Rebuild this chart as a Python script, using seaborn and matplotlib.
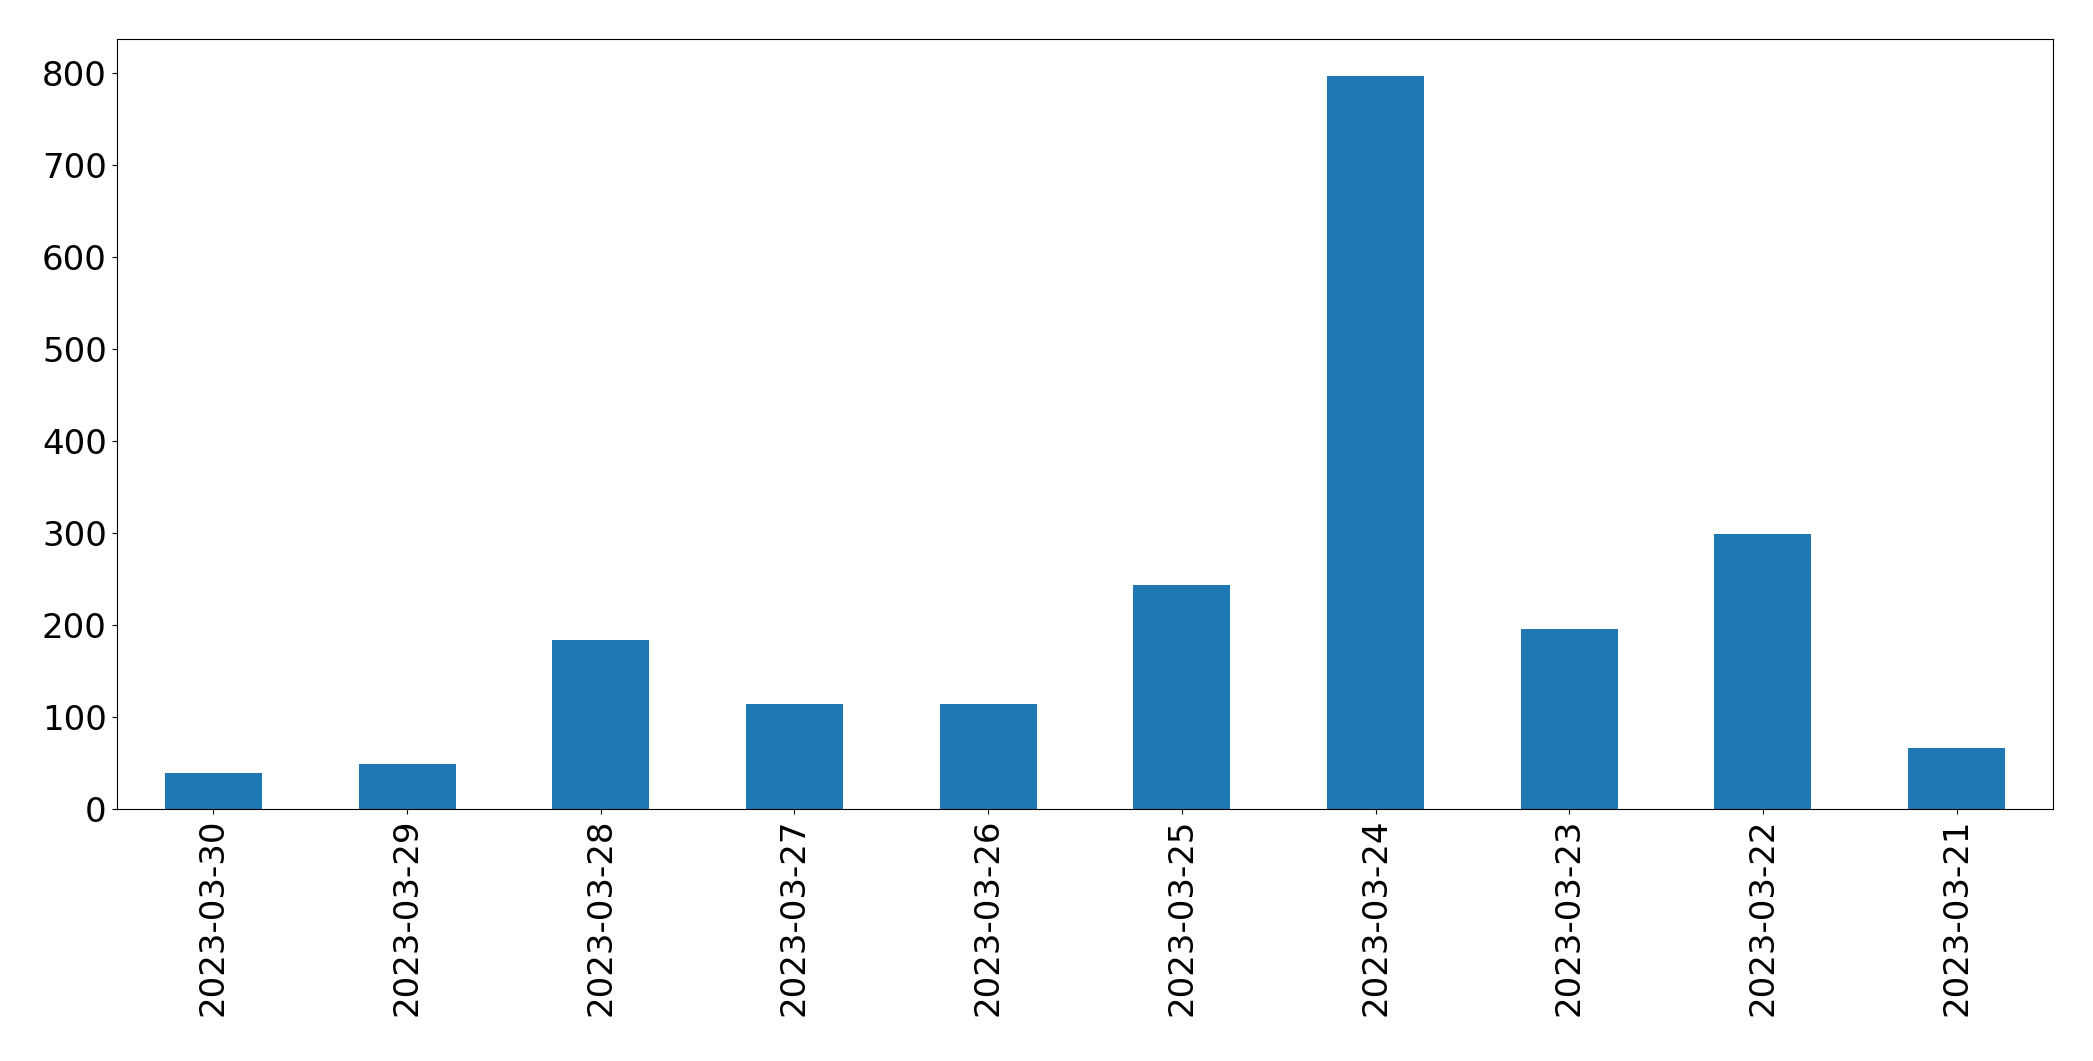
import matplotlib
matplotlib.use("Agg")
import matplotlib.pyplot as plt
import seaborn as sns
import pandas as pd

dates = ["2023-03-30", "2023-03-29", "2023-03-28", "2023-03-27", "2023-03-26",
         "2023-03-25", "2023-03-24", "2023-03-23", "2023-03-22", "2023-03-21"]
counts = [39, 49, 184, 114, 114, 244, 797, 196, 299, 66]

df = pd.DataFrame({"date": dates, "count": counts})

fig, ax = plt.subplots(figsize=(20.93, 10.61), dpi=100)
sns.barplot(data=df, x="date", y="count", order=dates, color="#1f77b4",
            saturation=1, width=0.5, ax=ax)
ax.set_xlim(-0.5, len(dates) - 0.5)
ax.set_ylim(0, max(counts) * 1.05)
ax.set_xlabel("")
ax.set_ylabel("")
ax.tick_params(axis="both", labelsize=24.5)
plt.setp(ax.get_xticklabels(), rotation=90)
for s in ax.spines.values():
    s.set_visible(True)
    s.set_color("black")
fig.subplots_adjust(left=0.0557, right=0.9811, top=0.963, bottom=0.2375)
fig.savefig("out.png", dpi=100)
